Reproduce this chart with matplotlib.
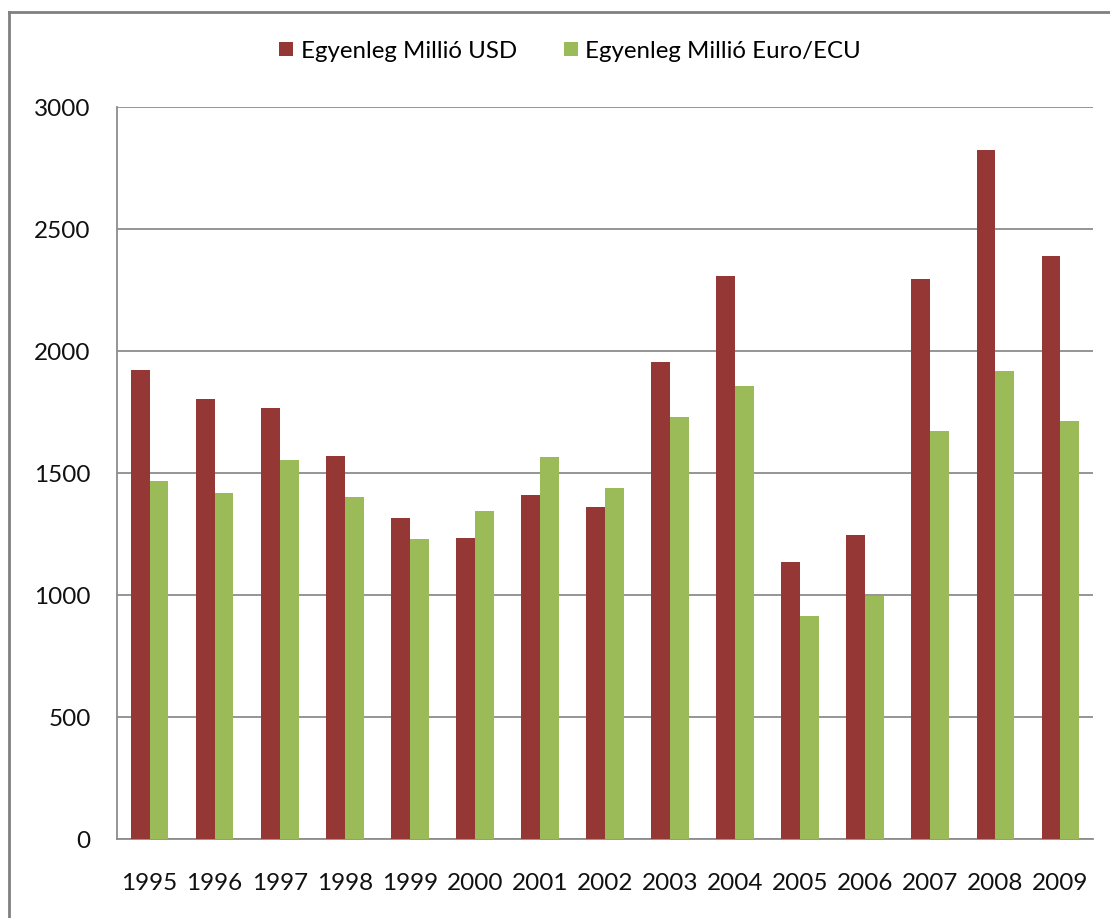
import numpy as np
import matplotlib
matplotlib.use("Agg")
import matplotlib.pyplot as plt
from matplotlib.lines import Line2D
from matplotlib.patches import Patch

# data
years = ["1995", "1996", "1997", "1998", "1999", "2000", "2001", "2002",
         "2003", "2004", "2005", "2006", "2007", "2008", "2009"]
usd = [1923, 1803, 1766, 1571, 1316, 1235, 1409, 1361,
       1954, 2306, 1135, 1247, 2296, 2825, 2390]
eur = [1466, 1419, 1555, 1403, 1231, 1345, 1566, 1439,
       1729, 1855, 916, 996, 1671, 1919, 1713]
series_names = ["Egyenleg Millió USD", "Egyenleg Millió Euro/ECU"]
colors = ["#953735", "#9BBB59"]

plt.rcParams["font.family"] = ["Lato", "DejaVu Sans"]

fig = plt.figure(figsize=(11.1, 9.18), dpi=100)
ax = fig.add_axes([117 / 1110, 1 - 839.3 / 918, (1093 - 117) / 1110, (839.3 - 107) / 918])

x = np.arange(len(years))
w = 0.29
ax.bar(x - w / 2, usd, width=w, color=colors[0], zorder=3)
ax.bar(x + w / 2, eur, width=w, color=colors[1], zorder=3)

ax.set_xlim(-0.5, len(years) - 0.5)
ax.set_ylim(0, 3000)
ax.set_yticks(range(0, 3001, 500))
ax.set_xticks(x)
ax.set_xticklabels(years)
ax.tick_params(axis="both", length=0, labelsize=17.5, colors="#111111")
ax.tick_params(axis="x", pad=24)
ax.tick_params(axis="y", pad=19)
ax.yaxis.grid(True, color="#8c8c8c", linewidth=1.3, zorder=0)
for s in ["top", "right"]:
    ax.spines[s].set_visible(False)
ax.spines["left"].set_color("#8c8c8c")
ax.spines["left"].set_linewidth(1.3)
ax.spines["bottom"].set_color("#8c8c8c")
ax.spines["bottom"].set_linewidth(1.3)

# outer chart frame (only top and left visible in the crop)
fx = 9 / 1110
fy = 1 - 12 / 918
fig.add_artist(Line2D([fx, fx], [0, fy], transform=fig.transFigure, color="#808080", lw=2))
fig.add_artist(Line2D([fx, 1], [fy, fy], transform=fig.transFigure, color="#808080", lw=2))

handles = [Patch(facecolor=c) for c in colors]
fig.legend(handles, series_names, loc="center", bbox_to_anchor=(0.5135, 1 - 51 / 918),
           ncol=2, frameon=False, fontsize=17.3, handlelength=0.58, handleheight=0.58,
           handletextpad=0.3, columnspacing=1.95)

fig.savefig("out.png", dpi=100)
